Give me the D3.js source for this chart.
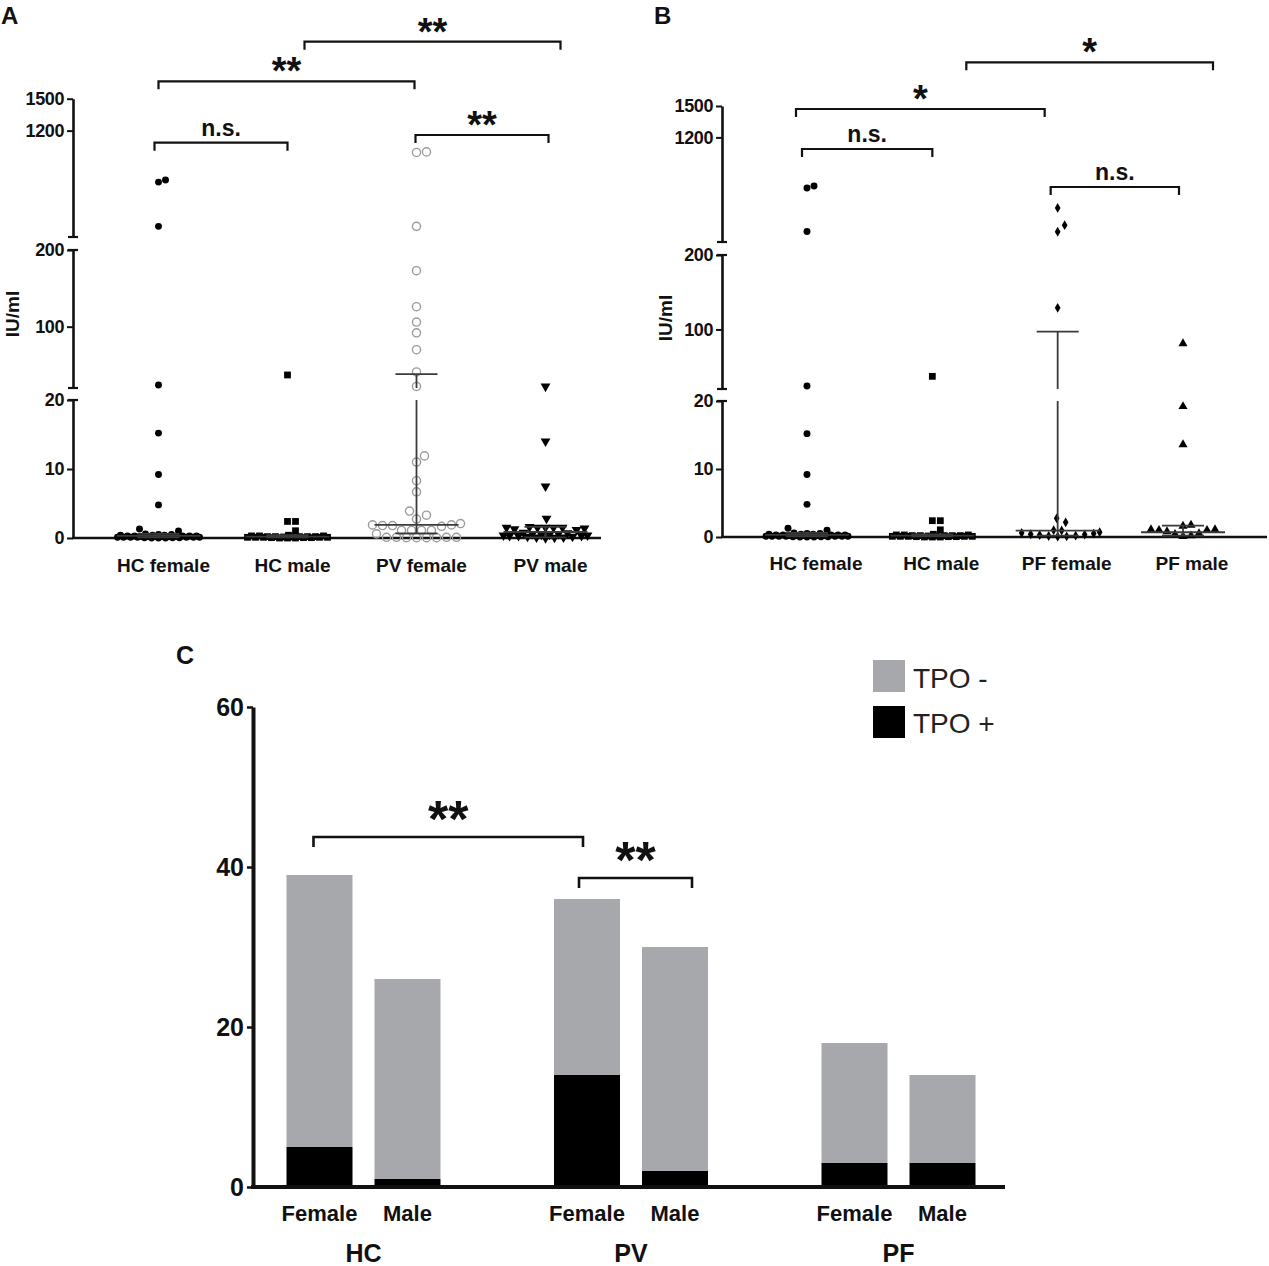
<!DOCTYPE html>
<html>
<head>
<meta charset="utf-8">
<script src="https://cdn.jsdelivr.net/npm/d3@7"></script>
<style>
  body { margin: 0; background: #fff; }
  svg { display: block; font-family: "Liberation Sans", Arial, sans-serif; }
</style>
</head>
<body>
<svg width="1269" height="1266"></svg>
<script>
// ---- panel A / B : anti-TPO in IU/ml ----
const groupsA = ["HC female", "HC male", "PV female", "PV male"];
const groupsB = ["HC female", "HC male", "PF female", "PF male"];

const hcFemale = [735, 716, 300, 24, 15.2, 9.2, 4.8, 1.3, 1.0,
  0.6, 0.5, 0.5, 0.4, 0.4, 0.4, 0.3, 0.3, 0.3, 0.3, 0.3, 0.2, 0.2, 0.2, 0.2, 0.2,
  0.2, 0.1, 0.1, 0.1, 0.1, 0.1, 0.1, 0.1, 0.05, 0.05, 0.05, 0, 0, 0];
const hcMale = [37, 2.4, 2.4, 1.05,
  0.4, 0.3, 0.3, 0.3, 0.2, 0.2, 0.2, 0.2, 0.2, 0.15, 0.15, 0.1, 0.1, 0.1, 0.1, 0.1,
  0.05, 0.05, 0.05, 0, 0, 0];
const pvFemale = [1000, 995, 300, 173, 126, 106, 92, 70, 41, 22, 11.9, 11.0, 8.3, 6.7,
  3.9, 3.3, 2.75, 2.1, 1.9, 1.9, 1.8, 1.8, 1.7, 1.1, 1.1, 1.1, 1.1, 0.6,
  0.1, 0.1, 0.1, 0.1, 0.05, 0.05, 0.05, 0.05];
const pvMale = [22, 14, 7.5, 2.8, 1.6, 1.5, 1.5, 1.5, 1.5, 1.5, 1.4, 1.3, 1.2,
  0.8, 0.7, 0.6, 0.6, 0.5, 0.5, 0.4, 0.4, 0.3, 0.3, 0.3, 0.2, 0.2, 0.1, 0.1, 0.05, 0];
const pfFemale = [526, 361, 298, 129, 2.75, 2.16,
  1.0, 0.95, 0.7, 0.6, 0.5, 0.4, 0.35, 0.3, 0.2, 0.15, 0.1, 0.05];
const pfMale = [81, 19.2, 13.6, 1.75, 1.6, 1.1, 1.1, 1.0, 1.0, 0.8, 0.5, 0.4, 0.2, 0.1];

// centre line and whisker ends per group
const centerA = [0.3, 0.2, 1.9, 0.87];
const lowA = [0.1, 0.1, 0.68, 0.1];
const highA = [0.6, 0.4, 38, 1.6];
const centerB = [0.3, 0.2, 0.95, 0.7];
const lowB = [0.1, 0.1, 0.2, 0.2];
const highB = [0.6, 0.4, 97, 1.66];

// broken y axis
const segDomains = [[0, 20], [20, 200], [200, 1500]];
const segTicks = [[0, 10, 20], [100, 200], [1200, 1500]];

const sigA = [["HC female", "HC male", "n.s."], ["HC female", "PV female", "**"],
  ["HC male", "PV male", "**"], ["PV female", "PV male", "**"]];
const sigB = [["HC female", "HC male", "n.s."], ["HC female", "PF female", "*"],
  ["HC male", "PF male", "*"], ["PF female", "PF male", "n.s."]];

// ---- panel C : TPO status counts ----
const cohorts = ["HC", "PV", "PF"];
const sexes = ["Female", "Male"];
const tpoPos = [5, 1, 14, 2, 3, 3];
const tpoNeg = [34, 25, 22, 28, 15, 11];
const ticksC = [0, 20, 40, 60];
const sigC = [["HC|Female", "PV|Female", "**"], ["PV|Female", "PV|Male", "**"]];

const svg = d3.select("svg");
const ink = "#111";

// spread points sideways like a column scatter, never wider than half
function swarm(vals, yOf, cx, gap, half) {
  const pts = vals.map(v => ({ v: v, y: yOf(v) })).sort((a, b) => b.y - a.y);
  const placed = [];
  pts.forEach(p => {
    let best = null, bestD = -1;
    for (let k = 0; k <= 2 * half; k++) {
      const off = (k % 2 ? 1 : -1) * Math.ceil(k / 2);
      if (Math.abs(off) > half) continue;
      const x = cx + off;
      let dmin = Infinity;
      placed.forEach(q => { dmin = Math.min(dmin, Math.hypot(q.x - x, q.y - p.y)); });
      if (dmin >= gap) { best = x; break; }
      if (dmin > bestD) { bestD = dmin; best = x; }
    }
    p.x = best;
    placed.push(p);
  });
  return placed;
}

function drawScatter(cfg) {
  const g = svg.append("g");
  const segScales = segDomains.map((d, i) => d3.scaleLinear().domain(d).range(cfg.segRanges[i]));
  const yOf = v => v <= 20 ? segScales[0](v) : (v <= 200 ? segScales[1](v) : segScales[2](v));
  const x = d3.scalePoint().domain(cfg.groups).range(cfg.colRange);

  // y axis segments
  segScales.forEach((s, i) => {
    const ax = g.append("g")
      .attr("transform", `translate(${cfg.axisX},0)`)
      .call(d3.axisLeft(s).tickValues(segTicks[i]).tickSize(6).tickSizeOuter(0).tickPadding(3).tickFormat(d3.format("d")));
    ax.select(".domain").attr("stroke-width", 2.6).attr("stroke", ink);
    ax.selectAll(".tick line").attr("stroke-width", 2).attr("stroke", ink);
    ax.selectAll(".tick text").attr("font-size", 18).attr("font-weight", "bold")
      .attr("letter-spacing", -0.4).attr("fill", ink);
    // end caps at the breaks
    s.range().forEach((r, j) => {
      if ((i === 0 && j === 0) || (i === 2 && j === 1)) return;
      g.append("line").attr("x1", cfg.axisX - 5).attr("x2", cfg.axisX + 5)
        .attr("y1", r).attr("y2", r).attr("stroke", ink).attr("stroke-width", 2.2);
    });
  });

  // x axis
  g.append("line").attr("x1", cfg.axisX - 1).attr("x2", cfg.xEnd)
    .attr("y1", yOf(0)).attr("y2", yOf(0)).attr("stroke", ink).attr("stroke-width", 2.6);
  g.selectAll(".cat").data(cfg.groups).enter().append("text")
    .attr("x", d => x(d) + cfg.labelShift).attr("y", cfg.labelY)
    .attr("text-anchor", "middle").attr("font-size", 19).attr("font-weight", "bold")
    .attr("fill", ink).text(d => d);

  // points
  cfg.groups.forEach((grp, i) => {
    const st = cfg.styles[i];
    const pts = swarm(cfg.data[i], yOf, x(grp), st.gap, st.half);
    const sym = d3.symbol().type(st.type).size(st.size);
    g.selectAll(null).data(pts).enter().append("path")
      .attr("d", sym)
      .attr("transform", d => `translate(${d.x},${d.y}) rotate(${st.rot || 0})`)
      .attr("fill", st.fill).attr("stroke", st.stroke || "none").attr("stroke-width", st.sw || 0);
  });

  // centre line and whiskers
  cfg.groups.forEach((grp, i) => {
    const cx = x(grp);
    const c = cfg.center[i], lo = cfg.low[i], hi = cfg.high[i];
    const col = "#3a3a3a";
    g.append("line").attr("x1", cx - 42).attr("x2", cx + 42).attr("y1", yOf(c)).attr("y2", yOf(c))
      .attr("stroke", col).attr("stroke-width", 1.8);
    [lo, hi].forEach(v => g.append("line").attr("x1", cx - 21).attr("x2", cx + 21)
      .attr("y1", yOf(v)).attr("y2", yOf(v)).attr("stroke", col).attr("stroke-width", 1.8));
    segDomains.forEach((d, k) => {
      const a = Math.max(lo, d[0]), b = Math.min(hi, d[1]);
      if (a < b) g.append("line").attr("x1", cx).attr("x2", cx)
        .attr("y1", segScales[k](a)).attr("y2", segScales[k](b))
        .attr("stroke", col).attr("stroke-width", 1.8);
    });
  });

  // significance brackets
  cfg.sig.forEach((s, i) => {
    const x1 = x(s[0]) + cfg.sigOff[i][0], x2 = x(s[1]) + cfg.sigOff[i][1], yb = cfg.sigY[i];
    g.append("path").attr("d", `M${x1},${yb + 8}V${yb}H${x2}V${yb + 8}`)
      .attr("fill", "none").attr("stroke", ink).attr("stroke-width", 2.2);
    const star = s[2] !== "n.s.";
    g.append("text").attr("x", (x1 + x2) / 2).attr("y", star ? yb + 3 : yb - 7)
      .attr("text-anchor", "middle").attr("font-weight", "bold")
      .attr("font-size", star ? 38 : 23).attr("fill", ink).text(s[2]);
  });

  g.append("text").attr("transform", `translate(${cfg.titleX},${cfg.titleY}) rotate(-90)`)
    .attr("text-anchor", "middle").attr("font-size", 19).attr("font-weight", "bold")
    .attr("fill", ink).text("IU/ml");
  g.append("text").attr("x", cfg.letterX).attr("y", 24).attr("font-size", 24)
    .attr("font-weight", "bold").attr("fill", ink).text(cfg.letter);
}

const symHcF = { type: d3.symbolCircle, size: 38, fill: "#000", gap: 7, half: 41 };
const symHcM = { type: d3.symbolSquare, size: 46, fill: "#000", gap: 8, half: 41 };

drawScatter({
  letter: "A", letterX: 1, titleX: 19, titleY: 314,
  groups: groupsA, data: [hcFemale, hcMale, pvFemale, pvMale],
  center: centerA, low: lowA, high: highA,
  axisX: 73, xEnd: 601, colRange: [158.5, 545.5], labelShift: 5, labelY: 572,
  segRanges: [[538, 400], [388, 250], [237, 98.7]],
  styles: [symHcF, symHcM,
    { type: d3.symbolCircle, size: 52, fill: "none", stroke: "#9b9b9b", sw: 1.4, gap: 10, half: 44 },
    { type: d3.symbolTriangle, size: 42, fill: "#000", rot: 180, gap: 9, half: 42 }],
  sig: sigA, sigY: [142.7, 81.3, 41.7, 135],
  sigOff: [[-4, 0], [0, -2], [17, 15], [-1, 3]]
});

drawScatter({
  letter: "B", letterX: 654, titleX: 672, titleY: 318,
  groups: groupsB, data: [hcFemale, hcMale, pfFemale, pfMale],
  center: centerB, low: lowB, high: highB,
  axisX: 722, xEnd: 1267, colRange: [807, 1183], labelShift: 9, labelY: 570,
  segRanges: [[537, 401], [389, 255], [242, 106]],
  styles: [symHcF, symHcM,
    { type: d3.symbolDiamond, size: 28, fill: "#000", gap: 9, half: 42 },
    { type: d3.symbolTriangle, size: 36, fill: "#000", gap: 8, half: 42 }],
  sig: sigB, sigY: [149, 109, 62.3, 187],
  sigOff: [[-5, 0], [-11, -13], [34, 30], [-7, -4]]
});

// ---- panel C ----
(function () {
  const g = svg.append("g");
  const y = d3.scaleLinear().domain([0, 60]).range([1187, 707]);
  const xGroup = d3.scalePoint().domain(cohorts).range([363.5, 898.5]);
  const xSex = d3.scaleBand().domain(sexes).range([-77, 77]).paddingInner(0.25).paddingOuter(0);

  const rows = tpoPos.map((p, i) => ({
    cohort: cohorts[Math.floor(i / 2)], sex: sexes[i % 2], pos: p, neg: tpoNeg[i]
  }));
  const stack = d3.stack().keys(["pos", "neg"])(rows);
  const fills = { pos: "#000", neg: "#a7a8ab" };
  const barX = d => xGroup(d.data.cohort) + xSex(d.data.sex);

  stack.forEach(layer => {
    g.selectAll(null).data(layer).enter().append("rect")
      .attr("x", barX).attr("width", xSex.bandwidth())
      .attr("y", d => y(d[1])).attr("height", d => y(d[0]) - y(d[1]))
      .attr("fill", fills[layer.key]);
  });

  const ax = g.append("g").attr("transform", "translate(253,0)")
    .call(d3.axisLeft(y).tickValues(ticksC).tickSize(6).tickSizeOuter(0).tickPadding(3));
  ax.select(".domain").attr("stroke-width", 4).attr("stroke", ink);
  ax.selectAll(".tick line").attr("stroke-width", 2.5).attr("stroke", ink);
  ax.selectAll(".tick text").attr("font-size", 25).attr("font-weight", "bold").attr("fill", ink);

  g.append("line").attr("x1", 251).attr("x2", 1005).attr("y1", y(0)).attr("y2", y(0))
    .attr("stroke", ink).attr("stroke-width", 4);

  g.selectAll(".sx").data(rows).enter().append("text")
    .attr("x", d => xGroup(d.cohort) + xSex(d.sex) + xSex.bandwidth() / 2).attr("y", 1221)
    .attr("text-anchor", "middle").attr("font-size", 22).attr("font-weight", "bold")
    .attr("fill", ink).text(d => d.sex);
  g.selectAll(".co").data(cohorts).enter().append("text")
    .attr("x", d => xGroup(d)).attr("y", 1262)
    .attr("text-anchor", "middle").attr("font-size", 25).attr("font-weight", "bold")
    .attr("fill", ink).text(d => d);

  const cx = key => { const [c, s] = key.split("|"); return xGroup(c) + xSex(s) + xSex.bandwidth() / 2; };
  const sigY = [837, 878], sigOff = [[-6, -4], [-8, 17]];
  sigC.forEach((s, i) => {
    const x1 = cx(s[0]) + sigOff[i][0], x2 = cx(s[1]) + sigOff[i][1], yb = sigY[i];
    g.append("path").attr("d", `M${x1},${yb + 10}V${yb}H${x2}V${yb + 10}`)
      .attr("fill", "none").attr("stroke", ink).attr("stroke-width", 2.6);
    g.append("text").attr("x", (x1 + x2) / 2).attr("y", yb)
      .attr("text-anchor", "middle").attr("font-weight", "bold").attr("font-size", 52)
      .attr("fill", ink).text(s[2]);
  });

  // legend
  const legend = [["TPO -", "neg"], ["TPO +", "pos"]];
  legend.forEach((l, i) => {
    g.append("rect").attr("x", 873).attr("y", 660 + i * 46).attr("width", 32).attr("height", 32)
      .attr("fill", fills[l[1]]);
    g.append("text").attr("x", 913).attr("y", 688 + i * 45).attr("font-size", 28)
      .attr("fill", "#222").text(l[0]);
  });

  g.append("text").attr("x", 176).attr("y", 664).attr("font-size", 25)
    .attr("font-weight", "bold").attr("fill", ink).text("C");
})();
</script>
</body>
</html>
